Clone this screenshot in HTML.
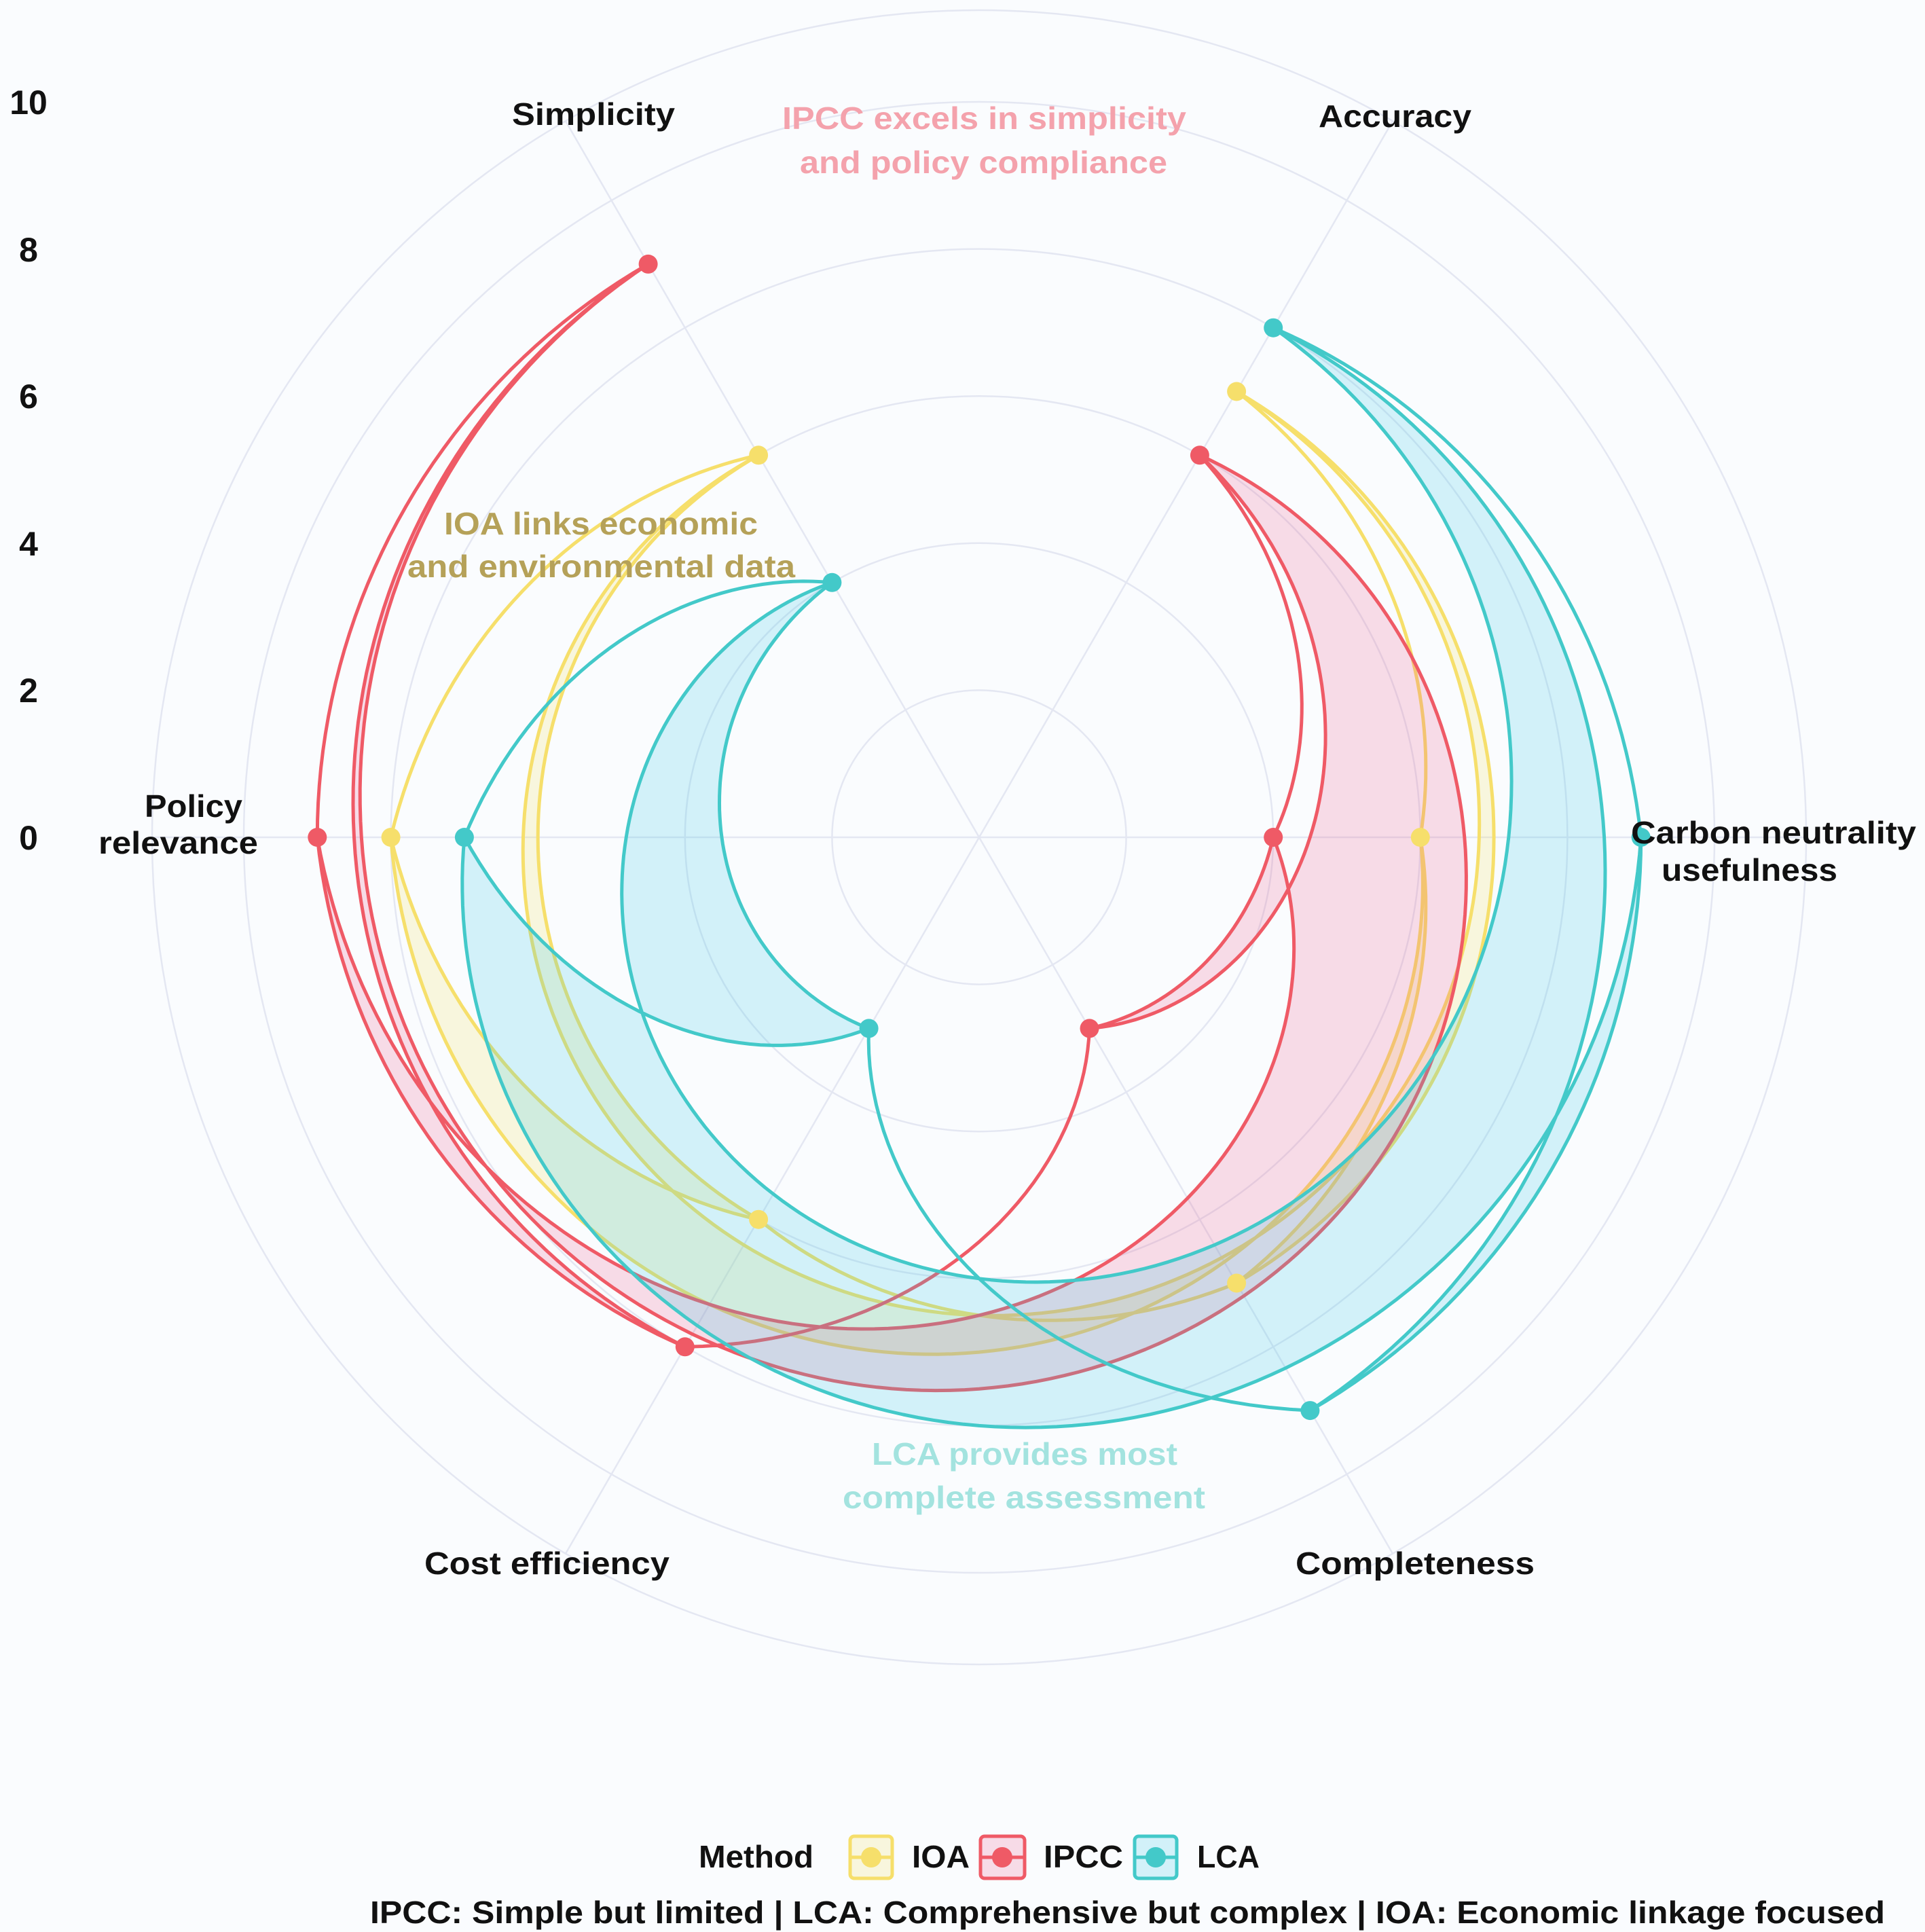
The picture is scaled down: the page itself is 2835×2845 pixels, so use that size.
<!DOCTYPE html>
<html>
<head>
<meta charset="utf-8">
<style>
html,body{margin:0;padding:0;background:#fafcfe;}
svg{display:block;}
text{font-family:"Liberation Sans",Arial,sans-serif;font-weight:bold;}
</style>
</head>
<body>
<svg id="s" width="2835" height="2845" viewBox="0 0 2835 2845" xmlns="http://www.w3.org/2000/svg">
<rect x="0" y="0" width="2835" height="2845" fill="#fafcfe"/>

<!-- grid -->
<g fill="none" stroke="#e4e7f2" stroke-width="2.5">
  <circle cx="1442" cy="1233" r="216.6"/>
  <circle cx="1442" cy="1233" r="433.2"/>
  <circle cx="1442" cy="1233" r="649.8"/>
  <circle cx="1442" cy="1233" r="866.4"/>
  <circle cx="1442" cy="1233" r="1083"/>
  <circle cx="1442" cy="1233" r="1218"/>
  <line x1="1442" y1="1233" x2="2660" y2="1233"/>
  <line x1="1442" y1="1233" x2="2051" y2="178.2"/>
  <line x1="1442" y1="1233" x2="833" y2="178.2"/>
  <line x1="1442" y1="1233" x2="224" y2="1233"/>
  <line x1="1442" y1="1233" x2="833" y2="2287.8"/>
  <line x1="1442" y1="1233" x2="2051" y2="2287.8"/>
</g>

<g id="traces"></g>
<g id="markers"></g>

<!-- radial tick labels -->
<g font-size="50" fill="#111" text-anchor="middle">
  <text x="42" y="168">10</text>
  <text x="42" y="385">8</text>
  <text x="42" y="601">6</text>
  <text x="42" y="818">4</text>
  <text x="42" y="1034">2</text>
  <text x="42" y="1251">0</text>
</g>

<!-- category labels -->
<g font-size="46" fill="#111">
  <text x="754" y="184" textLength="240" lengthAdjust="spacingAndGlyphs">Simplicity</text>
  <text x="1942" y="187" textLength="225" lengthAdjust="spacingAndGlyphs">Accuracy</text>
  <text x="2402" y="1242" textLength="420" lengthAdjust="spacingAndGlyphs">Carbon neutrality</text>
  <text x="2447" y="1297" textLength="259" lengthAdjust="spacingAndGlyphs">usefulness</text>
  <text x="213" y="1203" textLength="144" lengthAdjust="spacingAndGlyphs">Policy</text>
  <text x="145" y="1257" textLength="235" lengthAdjust="spacingAndGlyphs">relevance</text>
  <text x="625" y="2318" textLength="361" lengthAdjust="spacingAndGlyphs">Cost efficiency</text>
  <text x="1908" y="2318" textLength="352" lengthAdjust="spacingAndGlyphs">Completeness</text>
</g>

<!-- annotations -->
<g font-size="46">
  <text x="1152" y="190" fill="#f4a2ac" textLength="595" lengthAdjust="spacingAndGlyphs">IPCC excels in simplicity</text>
  <text x="1178" y="255" fill="#f4a2ac" textLength="541" lengthAdjust="spacingAndGlyphs">and policy compliance</text>
  <text x="654" y="787" fill="#b5a158" textLength="462" lengthAdjust="spacingAndGlyphs">IOA links economic</text>
  <text x="600" y="850" fill="#b5a158" textLength="571" lengthAdjust="spacingAndGlyphs">and environmental data</text>
  <text x="1284" y="2157" fill="#a3e3df" textLength="450" lengthAdjust="spacingAndGlyphs">LCA provides most</text>
  <text x="1241" y="2221" fill="#a3e3df" textLength="534" lengthAdjust="spacingAndGlyphs">complete assessment</text>
</g>

<!-- legend -->
<g font-size="46" fill="#111">
  <text x="1029" y="2750" textLength="169" lengthAdjust="spacingAndGlyphs">Method</text>
  <text x="1343" y="2750" textLength="85" lengthAdjust="spacingAndGlyphs">IOA</text>
  <text x="1537" y="2750" textLength="117" lengthAdjust="spacingAndGlyphs">IPCC</text>
  <text x="1763" y="2750" textLength="92" lengthAdjust="spacingAndGlyphs">LCA</text>
</g>
<g stroke-width="5">
  <rect x="1252" y="2704" width="62" height="62" rx="6" fill="rgba(240,225,90,0.2)" stroke="#f6df6b"/>
  <line x1="1252" y1="2735" x2="1314" y2="2735" stroke="#f6df6b"/>
  <circle cx="1283" cy="2735" r="15" fill="#f6df6b" stroke="none"/>
  <rect x="1444" y="2704" width="65" height="62" rx="6" fill="rgba(235,90,140,0.2)" stroke="#ef5a66"/>
  <line x1="1444" y1="2735" x2="1509" y2="2735" stroke="#ef5a66"/>
  <circle cx="1476" cy="2735" r="15" fill="#ef5a66" stroke="none"/>
  <rect x="1671" y="2704" width="62" height="62" rx="6" fill="rgba(50,200,230,0.2)" stroke="#43c9c9"/>
  <line x1="1671" y1="2735" x2="1733" y2="2735" stroke="#43c9c9"/>
  <circle cx="1702" cy="2735" r="15" fill="#43c9c9" stroke="none"/>
</g>

<text x="545" y="2832" font-size="46" fill="#111" textLength="2231" lengthAdjust="spacingAndGlyphs">IPCC: Simple but limited | LCA: Comprehensive but complex | IOA: Economic linkage focused</text>
</svg>

<script>
(function(){
  var cx=1442, cy=1233, u=108.3;
  var seq=[0,1,2,3,4,5,0,2,3,5,4,1,0];
  var traces=[
    {R:[7,6,7,6,8,6], line:'#f6df6b', fill:'rgba(240,225,90,0.2)'},
    {R:[6,4,3,8,9,9], line:'#ef5a66', fill:'rgba(235,90,140,0.2)'},
    {R:[8,9,9,3,7,4], line:'#43c9c9', fill:'rgba(50,200,230,0.2)'}
  ];
  function P(t,r){var a=(60-60*t)*Math.PI/180;return [cx+r*u*Math.cos(a), cy-r*u*Math.sin(a)];}
  var NS='http://www.w3.org/2000/svg', g=document.getElementById('traces'), gm=document.getElementById('markers');
  traces.forEach(function(tr){
    var d='';
    for(var k=0;k<seq.length-1;k++){
      var a=seq[k], b=seq[k+1], n=Math.max(2,Math.round(Math.abs(b-a)*40));
      for(var j=(k?1:0);j<=n;j++){
        var s=j/n, p=P(a+(b-a)*s, tr.R[a]+(tr.R[b]-tr.R[a])*s);
        d+=(d?'L':'M')+p[0].toFixed(1)+' '+p[1].toFixed(1);
      }
    }
    d+='Z';
    var f=document.createElementNS(NS,'path');
    f.setAttribute('d',d); f.setAttribute('fill',tr.fill); f.setAttribute('fill-rule','evenodd'); f.setAttribute('stroke','none');
    g.appendChild(f);
    var l=document.createElementNS(NS,'path');
    l.setAttribute('d',d); l.setAttribute('fill','none'); l.setAttribute('stroke',tr.line);
    l.setAttribute('stroke-width','5'); l.setAttribute('stroke-linejoin','round'); l.setAttribute('stroke-linecap','round');
    g.appendChild(l);
    for(var i=0;i<6;i++){
      var p=P(i,tr.R[i]);
      var c=document.createElementNS(NS,'circle');
      c.setAttribute('cx',p[0].toFixed(1)); c.setAttribute('cy',p[1].toFixed(1)); c.setAttribute('r','14'); c.setAttribute('fill',tr.line);
      gm.appendChild(c);
    }
  });
})();
</script>
</body>
</html>
